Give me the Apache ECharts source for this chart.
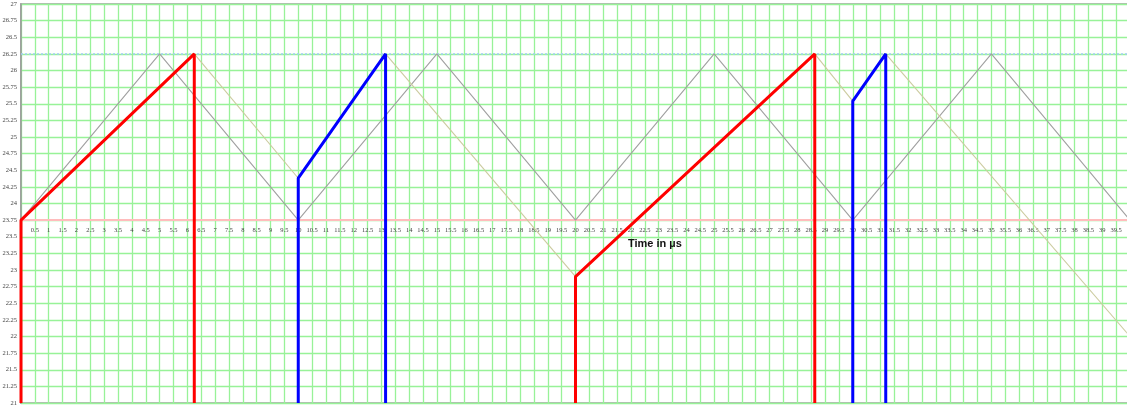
<!DOCTYPE html>
<html>
<head>
<meta charset="utf-8">
<script src="https://cdn.jsdelivr.net/npm/echarts@6/dist/echarts.min.js"></script>
<style>
  html, body { margin: 0; padding: 0; background: #ffffff; }
  #chart { width: 1127px; height: 406px; }
</style>
</head>
<body>
<div id="chart"></div>
<script>
// Axis ranges (time in microseconds, level on the vertical axis)
const xMin = 0, xMax = 40, xStep = 0.5;
const yMin = 21, yMax = 27, yStep = 0.25;
const axisCrossLevel = 23.75;   // level where the time axis is drawn
const upperLevel = 26.25;       // dotted reference level

// Reference triangle wave (grey)
const greyWave = [[0, 23.75], [5, 26.25], [10, 23.75], [15, 26.25], [20, 23.75],
                  [25, 26.25], [30, 23.75], [35, 26.25], [40, 23.75]];

// Falling segments (khaki)
const fallA = [[6.25, 26.25], [10, 24.38]];
const fallB = [[13.15, 26.25], [20, 22.9]];
const fallC = [[28.63, 26.25], [30, 25.54]];
const fallD = [[31.19, 26.25], [40, 22.0]];

// Red ramps with their vertical edges
const redA = [[0, 21], [0, 23.75], [6.25, 26.25], [6.25, 21]];
const redB = [[20, 21], [20, 22.9], [28.63, 26.25], [28.63, 21]];

// Blue ramps with their vertical edges
const blueA = [[10, 21], [10, 24.38], [13.15, 26.25], [13.15, 21]];
const blueB = [[30, 21], [30, 25.54], [31.19, 26.25], [31.19, 21]];

const chartW = 1127, chartH = 406;
const gridBox = { left: 21, right: -3, top: 4, bottom: 3 };
const plotH = chartH - gridBox.top - gridBox.bottom;
// shift the time axis up so it crosses at axisCrossLevel
const xAxisShift = -(axisCrossLevel - yMin) / (yMax - yMin) * plotH;

function lineSeries(data, color, width, z) {
  return {
    type: 'line', data: data, symbol: 'none', showSymbol: false,
    lineStyle: { color: color, width: width }, z: z, silent: true, animation: false
  };
}

const series = [
  Object.assign(lineSeries(greyWave, '#a0a0a0', 1.1, 3), {
    markLine: {
      silent: true, symbol: 'none', label: { show: false }, z: 2,
      lineStyle: { type: [2, 2], color: '#a2ccf4', width: 1.5 },
      data: [{ yAxis: upperLevel }]
    }
  }),
  lineSeries(fallA, '#cbcb9e', 1.1, 3),
  lineSeries(fallB, '#cbcb9e', 1.1, 3),
  lineSeries(fallC, '#cbcb9e', 1.1, 3),
  lineSeries(fallD, '#cbcb9e', 1.1, 3),
  lineSeries(redA, '#ff0000', 3, 5),
  lineSeries(redB, '#ff0000', 3, 5),
  lineSeries(blueA, '#0000ff', 3, 5),
  lineSeries(blueB, '#0000ff', 3, 5)
];

const gridGreen = '#98f298';

const chart = echarts.init(document.getElementById('chart'), null, { renderer: 'canvas' });
chart.setOption({
  animation: false,
  backgroundColor: '#ffffff',
  grid: {
    left: gridBox.left, right: gridBox.right, top: gridBox.top, bottom: gridBox.bottom,
    containLabel: false, outerBoundsMode: 'none',
    show: true, borderColor: '#b4b4b4', borderWidth: 2, backgroundColor: 'transparent'
  },
  xAxis: {
    type: 'value', min: xMin, max: xMax, interval: xStep,
    position: 'bottom', offset: xAxisShift,
    axisLine: { show: true, onZero: false, lineStyle: { color: '#ffbcbc', width: 2 } },
    axisTick: { show: false },
    axisLabel: {
      show: true, showMinLabel: false, showMaxLabel: false, margin: 7,
      fontSize: 6.5, color: '#444', fontFamily: 'Liberation Serif'
    },
    splitLine: { show: true, lineStyle: { color: gridGreen, width: 1.3 } }
  },
  yAxis: {
    type: 'value', min: yMin, max: yMax, interval: yStep,
    axisLine: { show: true, onZero: false, lineStyle: { color: '#9a9a9a', width: 1.5 } },
    axisTick: { show: false },
    axisLabel: { margin: 4, fontSize: 6.5, color: '#444', fontFamily: 'Liberation Serif' },
    splitLine: { show: true, lineStyle: { color: gridGreen, width: 1.3 } }
  },
  graphic: [{
    type: 'text', left: 628, top: 238, z: 100, silent: true,
    style: { text: 'Time in µs', fontSize: 11, fontWeight: 'bold', fontFamily: 'Liberation Sans', fill: '#111' }
  }],
  series: series
});
</script>
</body>
</html>
